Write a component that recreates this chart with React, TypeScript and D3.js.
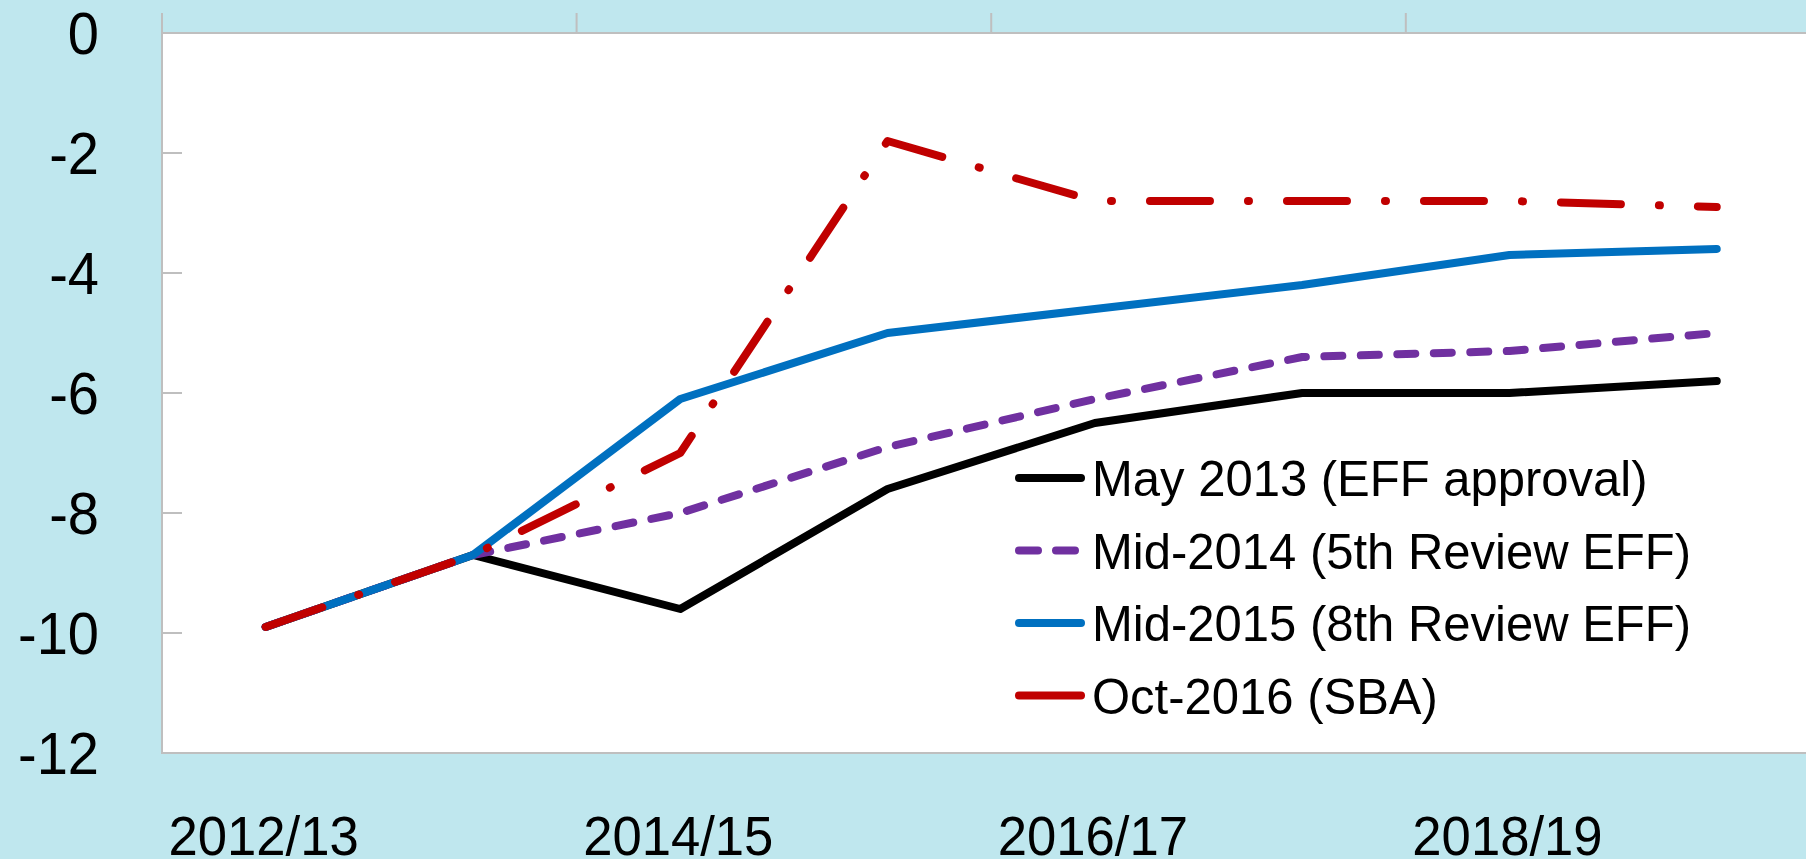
import React from 'react';
import * as d3 from 'd3';

const CATEGORIES = ['2012/13', '2013/14', '2014/15', '2015/16', '2016/17', '2017/18', '2018/19', '2019/20'];
const LABELED = ['2012/13', '2014/15', '2016/17', '2018/19'];
const Y_TICKS = [0, -2, -4, -6, -8, -10, -12];

const MAY_2013 = [-9.9, -8.7, -9.6, -7.6, -6.5, -6.0, -6.0, -5.8];
const MID_2014 = [-9.9, -8.7, -8.0, -6.9, -6.1, -5.4, -5.3, -5.0];
const MID_2015 = [-9.9, -8.7, -6.1, -5.0, -4.6, -4.2, -3.7, -3.6];
const OCT_2016 = [-9.9, -8.7, -7.0, -1.8, -2.8, -2.8, -2.8, -2.9];

const SERIES = [
  { name: 'May 2013 (EFF approval)', values: MAY_2013, color: '#000000', dash: null, legendDash: null },
  { name: 'Mid-2014 (5th Review EFF)', values: MID_2014, color: '#7030A0', dash: '18 18.5', legendDash: '19 18' },
  { name: 'Mid-2015 (8th Review EFF)', values: MID_2015, color: '#0070C0', dash: null, legendDash: null },
  { name: 'Oct-2016 (SBA)', values: OCT_2016, color: '#C00000', dash: '60 38 1 38', legendDash: null },
];

const W = 1806;
const H = 859;
const BG = '#BFE7EE';
const FONT = '"Liberation Sans", Arial, sans-serif';

export default function App() {
  if (typeof document !== 'undefined') document.body.style.margin = '0';

  const left = 162;
  const catW = 207.3;
  const top = 33;
  const bottom = 753;

  const x = d3.scaleBand<string>().domain(CATEGORIES).range([left, left + catW * CATEGORIES.length]);
  const y = d3.scaleLinear().domain([-12, 0]).range([bottom, top]);
  const cx = (c: string) => (x(c) as number) + x.bandwidth() / 2;

  const line = d3.line<number>()
    .x((_, i) => cx(CATEGORIES[i]))
    .y((d) => y(d));

  const legendX = 1015;
  const legendY = 478;
  const legendStep = 72.5;

  return (
    <svg width={W} height={H} style={{ display: 'block', background: BG }}>
      <rect x={0} y={0} width={W} height={H} fill={BG} />
      {/* plot area */}
      <rect x={left} y={top} width={W - left + 20} height={bottom - top} fill="#fff" stroke="#BFBFBF" strokeWidth={2} />

      {/* x axis ticks at the zero line */}
      {[0, 2, 4, 6].map((i) => (
        <line key={i} x1={x(CATEGORIES[i])} x2={x(CATEGORIES[i])} y1={top - 20} y2={top} stroke="#BFBFBF" strokeWidth={2} />
      ))}

      {/* y ticks */}
      {Y_TICKS.map((t) => (
        <g key={t}>
          <line x1={left} x2={left + 20} y1={y(t)} y2={y(t)} stroke="#BFBFBF" strokeWidth={2} />
          <text
            transform={`translate(99,${y(t) + 21}) scale(0.95,1)`}
            textAnchor="end"
            fontFamily={FONT}
            fontSize={59}
            fill="#000"
          >
            {t}
          </text>
        </g>
      ))}

      {/* x labels */}
      {LABELED.map((c) => (
        <text
          key={c}
          transform={`translate(${cx(c) - 2},855) scale(0.94,1)`}
          textAnchor="middle"
          fontFamily={FONT}
          fontSize={56}
          fill="#000"
        >
          {c}
        </text>
      ))}

      {/* series */}
      {SERIES.map((s) => (
        <path
          key={s.name}
          d={line(s.values) as string}
          fill="none"
          stroke={s.color}
          strokeWidth={8}
          strokeLinecap="round"
          strokeLinejoin="round"
          strokeDasharray={s.dash ?? undefined}
        />
      ))}

      {/* legend */}
      {SERIES.map((s, i) => {
        const ly = legendY + i * legendStep;
        return (
          <g key={s.name}>
            <line
              x1={legendX + 4}
              x2={s.legendDash ? legendX + 60 : legendX + 66}
              y1={ly}
              y2={ly}
              stroke={s.color}
              strokeWidth={8}
              strokeLinecap="round"
              strokeDasharray={s.legendDash ?? undefined}
            />
            <text
              transform={`translate(${legendX + 77},${ly + 18}) scale(0.98,1)`}
              fontFamily={FONT}
              fontSize={50}
              fill="#000"
            >
              {s.name}
            </text>
          </g>
        );
      })}
    </svg>
  );
}
